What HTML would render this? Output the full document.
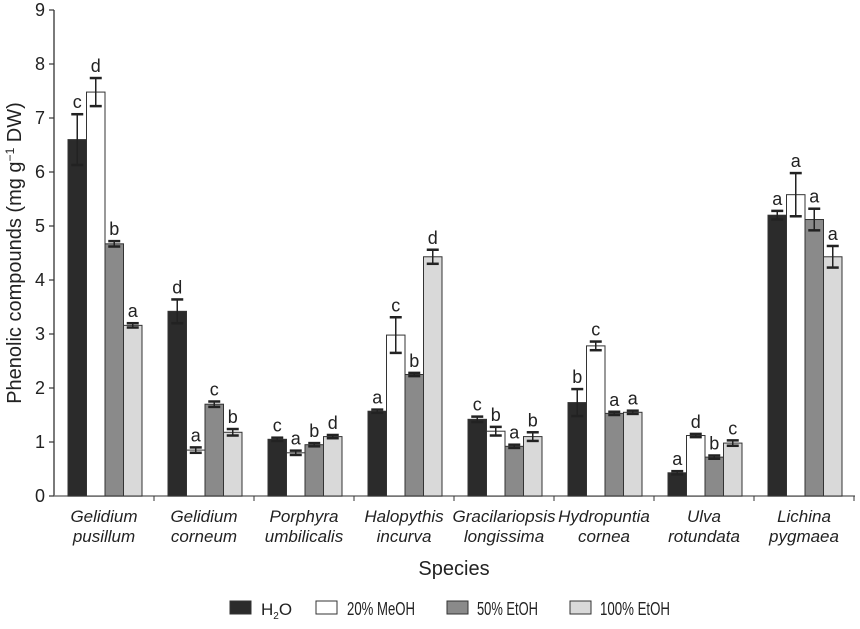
<!DOCTYPE html>
<html><head><meta charset="utf-8"><style>
body{margin:0;background:#fff;}
svg text{font-family:"Liberation Sans",sans-serif;fill:#222;}
</style></head><body>
<svg id="chart" width="860" height="624" viewBox="0 0 860 624" xmlns="http://www.w3.org/2000/svg"></svg>
<script>
const species1 = ["Gelidium","Gelidium","Porphyra","Halopythis","Gracilariopsis","Hydropuntia","Ulva","Lichina"];
const species2 = ["pusillum","corneum","umbilicalis","incurva","longissima","cornea","rotundata","pygmaea"];
const seriesNames = ["H2O","20% MeOH","50% EtOH","100% EtOH"];
const h2o   = [6.60,3.42,1.05,1.57,1.42,1.73,0.43,5.20];
const meoh20= [7.48,0.85,0.80,2.98,1.20,2.78,1.12,5.58];
const etoh50= [4.67,1.70,0.95,2.25,0.92,1.53,0.72,5.12];
const etoh100=[3.16,1.18,1.10,4.43,1.10,1.55,0.98,4.43];
const errH2o   = [0.47,0.22,0.03,0.03,0.05,0.25,0.03,0.08];
const errMeoh20= [0.26,0.05,0.04,0.33,0.08,0.08,0.03,0.40];
const errEtoh50= [0.05,0.05,0.03,0.03,0.03,0.03,0.03,0.20];
const errEtoh100=[0.04,0.06,0.03,0.13,0.08,0.03,0.05,0.20];
const letH2o   = ["c","d","c","a","c","b","a","a"];
const letMeoh20= ["d","a","a","c","b","c","d","a"];
const letEtoh50= ["b","c","b","b","a","a","b","a"];
const letEtoh100=["a","b","d","d","b","a","c","a"];
const yTicks = [0,1,2,3,4,5,6,7,8,9];

const svg=document.getElementById('chart');
const NS="http://www.w3.org/2000/svg";
function mk(t,a,p){const e=document.createElementNS(NS,t);for(const k in a)e.setAttribute(k,a[k]);(p||svg).appendChild(e);return e;}
const x0=54,gw=100,y0=496,yTop=10,yMax=9;
const yS=v=>y0-(v/yMax)*(y0-yTop);
const bw=18.5;
const xS=(g,s)=>x0+g*gw+14+s*bw;
const series=[h2o,meoh20,etoh50,etoh100];
const errs=[errH2o,errMeoh20,errEtoh50,errEtoh100];
const lets=[letH2o,letMeoh20,letEtoh50,letEtoh100];
const fills=["#2b2b2b","#ffffff","#8a8a8a","#d9d9d9"];

let ax=mk('line',{x1:x0,y1:yTop,x2:x0,y2:y0,stroke:'#333','stroke-width':1.3});

let bx=mk('line',{x1:x0,y1:y0,x2:855,y2:y0,stroke:'#777','stroke-width':1.5});

yTicks.forEach(t=>{
  const y=yS(t);
  mk('line',{x1:x0-5,y1:y,x2:x0,y2:y,stroke:'#333','stroke-width':1.2});
  const tx=mk('text',{x:x0-9,y:y+6,'text-anchor':'end','font-size':18});
  tx.textContent=t;
  
  
});
for(let g=1;g<=8;g++){mk('line',{x1:x0+g*gw,y1:y0,x2:x0+g*gw,y2:y0+5,stroke:'#333','stroke-width':1});}

for(let g=0;g<8;g++){
  for(let s=0;s<4;s++){
    const v=series[s][g],x=xS(g,s),y=yS(v);
    const r=mk('rect',{x:x,y:y,width:bw,height:y0-y,fill:fills[s],stroke:'#333','stroke-width':1});
    
    
    const e=errs[s][g],cx=x+bw/2,yh=yS(v+e),yl=yS(v-e);
    mk('line',{x1:cx,y1:yh,x2:cx,y2:yl,stroke:'#222','stroke-width':1.5});
    mk('line',{x1:cx-6,y1:yh,x2:cx+6,y2:yh,stroke:'#222','stroke-width':2.5});
    mk('line',{x1:cx-6,y1:yl,x2:cx+6,y2:yl,stroke:'#222','stroke-width':2.5});
    const lt=mk('text',{x:cx,y:yh-6,'text-anchor':'middle','font-size':18});
    lt.textContent=lets[s][g];
    
    
  }
  const cx=x0+g*gw+gw/2;
  const l1=mk('text',{x:cx,y:522,'text-anchor':'middle','font-size':17,'font-style':'italic'});
  l1.textContent=species1[g];
  
  
  const l2=mk('text',{x:cx,y:542,'text-anchor':'middle','font-size':17,'font-style':'italic'});
  l2.textContent=species2[g];
  
  
}
const xt=mk('text',{x:454,y:575,'text-anchor':'middle','font-size':20});
xt.textContent="Species";

const yt=mk('text',{x:0,y:0,'text-anchor':'middle','font-size':20,transform:'translate(21,253) rotate(-90)'});
yt.innerHTML='Phenolic compounds (mg g<tspan dy="-7" font-size="12">−1</tspan><tspan dy="7"> DW)</tspan>';


const legBox=[230,316,447,570];
const legTxt=[261,347,477,600];
const legLen=[26,68,61,70];
seriesNames.forEach((n,i)=>{
  const g=mk('g',{});
  
  
  mk('rect',{x:legBox[i],y:601,width:21,height:13,fill:fills[i],stroke:'#333','stroke-width':1},g);
  const t=mk('text',{x:legTxt[i],y:615,'font-size':18,textLength:legLen[i],lengthAdjust:'spacingAndGlyphs'},g);
  if(i===0){t.removeAttribute('textLength');t.setAttribute('font-size',17);t.innerHTML='H<tspan dy="4" font-size="10">2</tspan><tspan dy="-4">O</tspan>';}
  else t.textContent=n;
});
</script>
</body></html>
